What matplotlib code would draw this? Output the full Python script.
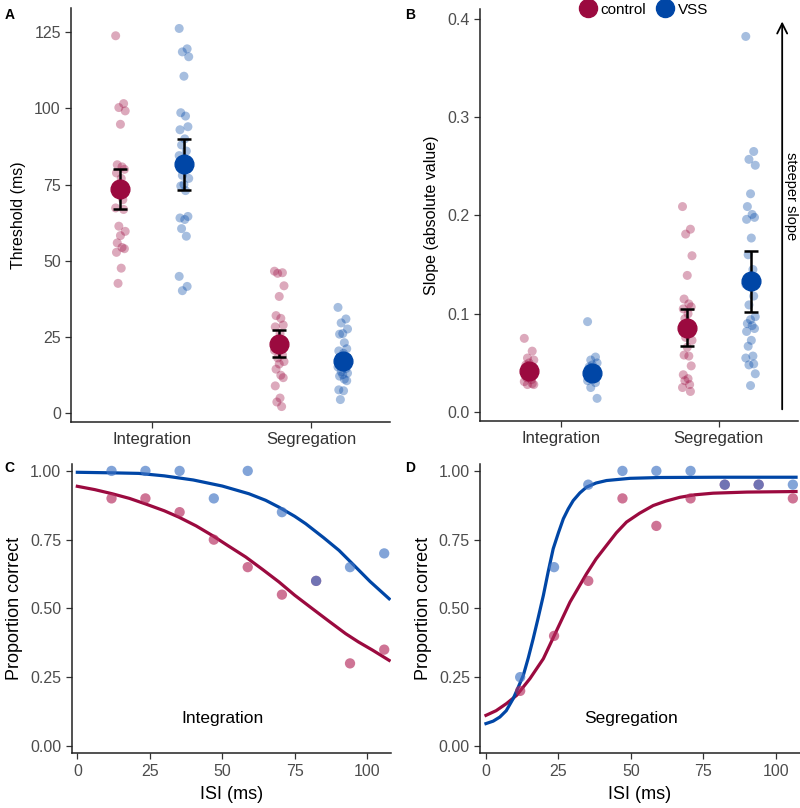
import numpy as np
import matplotlib
matplotlib.use("Agg")
import matplotlib.pyplot as plt
from matplotlib.lines import Line2D

plt.rcParams["font.family"] = ["Liberation Sans", "DejaVu Sans"]

RED = "#9b0a3f"
BLUE = "#0046a6"
TICK_GREY = "#4d4d4d"

# ---- panel A: thresholds (ms) ----
thr_int_control = [123.9, 101.6, 100.3, 99.2, 94.8, 81.5, 80.8, 80.0, 78.8, 77.0, 75.0, 70.0,
                   67.3, 66.8, 61.3, 59.6, 58.2, 55.8, 54.3, 53.9, 52.7, 47.5, 42.5]
thr_int_vss = [126.3, 119.6, 118.6, 117.0, 110.6, 98.6, 97.5, 94.0, 93.0, 90.0, 88.0, 86.0, 84.5,
               81.0, 78.0, 77.0, 75.0, 74.5, 73.0, 64.5, 64.0, 63.5, 60.5, 58.0, 44.8, 41.5, 40.1]
thr_seg_control = [46.5, 46.0, 45.8, 41.7, 38.2, 31.9, 31.0, 28.8, 28.2, 26.0, 24.0, 22.0, 20.5,
                   19.0, 18.0, 16.8, 16.0, 14.3, 12.3, 11.5, 8.8, 4.8, 3.5, 2.0]
thr_seg_vss = [34.6, 30.8, 29.5, 27.5, 26.0, 25.8, 23.0, 21.0, 20.3, 19.5, 18.0, 16.0, 15.0, 14.5,
               13.5, 13.0, 12.5, 12.0, 11.0, 10.5, 7.5, 7.2, 4.3]
thr_mean = {"control": [73.6, 22.6], "VSS": [81.6, 17.0]}
thr_lo = {"control": [66.8, 18.2], "VSS": [73.1, 15.2]}
thr_hi = {"control": [80.2, 27.2], "VSS": [89.9, 18.8]}

# ---- panel B: slopes (absolute value) ----
slp_int_control = [0.075, 0.062, 0.055, 0.053, 0.050, 0.048, 0.045, 0.042, 0.040, 0.037, 0.035,
                   0.033, 0.031, 0.029, 0.028, 0.028]
slp_int_vss = [0.092, 0.056, 0.053, 0.050, 0.048, 0.046, 0.044, 0.042, 0.040, 0.038, 0.036, 0.034,
               0.032, 0.030, 0.025, 0.014]
slp_seg_control = [0.209, 0.186, 0.181, 0.159, 0.139, 0.115, 0.110, 0.107, 0.105, 0.100, 0.095,
                   0.090, 0.085, 0.080, 0.076, 0.073, 0.066, 0.058, 0.057, 0.047, 0.038, 0.034,
                   0.032, 0.028, 0.025, 0.021]
slp_seg_vss = [0.382, 0.265, 0.257, 0.251, 0.222, 0.209, 0.201, 0.198, 0.196, 0.177, 0.160, 0.145,
               0.130, 0.118, 0.109, 0.097, 0.094, 0.090, 0.088, 0.085, 0.082, 0.073, 0.067, 0.057,
               0.055, 0.049, 0.048, 0.039, 0.027]
slp_mean = {"control": [0.0417, 0.0857], "VSS": [0.040, 0.133]}
slp_lo = {"control": [0.038, 0.0674], "VSS": [0.037, 0.102]}
slp_hi = {"control": [0.045, 0.105], "VSS": [0.043, 0.164]}

conditions = ["Integration", "Segregation"]

# ---- panels C/D: example observer ----
isi = [11.8, 23.5, 35.3, 47.1, 58.8, 70.6, 82.4, 94.1, 105.9]
pc_int_control = [0.90, 0.90, 0.85, 0.75, 0.65, 0.55, 0.60, 0.30, 0.35]
pc_int_vss = [1.00, 1.00, 1.00, 0.90, 1.00, 0.85, 0.60, 0.65, 0.70]
pc_seg_control = [0.20, 0.40, 0.60, 0.90, 0.80, 0.90, 0.95, 0.95, 0.90]
pc_seg_vss = [0.25, 0.65, 0.95, 1.00, 1.00, 1.00, 0.95, 0.95, 0.95]

# fitted curves
fit_int_vss_x = [0, 12, 21.2, 30, 40, 50, 59.2, 65, 69.6, 75, 78.8, 85, 90.3, 96.1, 101, 107.6]
fit_int_vss = [0.995, 0.993, 0.991, 0.982, 0.967, 0.945, 0.917, 0.893, 0.868, 0.835, 0.808, 0.757,
               0.711, 0.650, 0.598, 0.535]
fit_int_control_x = [0, 6, 12, 18, 23.5, 30, 35, 41, 46.6, 52, 58.1, 64, 69.6, 75, 81.1, 87, 92.6,
                     97, 101.9, 107.6]
fit_int_control = [0.944, 0.932, 0.917, 0.900, 0.880, 0.855, 0.832, 0.800, 0.765, 0.728, 0.687,
                   0.641, 0.596, 0.548, 0.499, 0.452, 0.408, 0.378, 0.348, 0.311]
fit_seg_vss_x = [0, 2.5, 4.8, 7, 9.4, 11, 12.9, 14.6, 16.3, 18, 19.8, 21.5, 23.2, 25, 26.7, 28.4,
                 30.1, 32.4, 34.7, 38, 41.6, 49.7, 60, 80, 107]
fit_seg_vss = [0.081, 0.090, 0.105, 0.128, 0.172, 0.210, 0.257, 0.320, 0.390, 0.465, 0.547, 0.635,
               0.717, 0.775, 0.826, 0.862, 0.892, 0.920, 0.941, 0.956, 0.965, 0.973, 0.976, 0.977,
               0.977]
fit_seg_control_x = [0, 3.5, 7.1, 10.6, 15.2, 19.8, 24.4, 29, 34.7, 38, 41.6, 45, 48.5, 53, 57.7, 62,
                     66.9, 72, 78.4, 90, 107]
fit_seg_control = [0.111, 0.128, 0.154, 0.184, 0.245, 0.317, 0.420, 0.523, 0.626, 0.680, 0.729,
                   0.775, 0.814, 0.846, 0.874, 0.890, 0.904, 0.913, 0.919, 0.923, 0.925]

jitter = [-0.03, 0.02, -0.01, 0.03, 0.0, -0.02, 0.01, 0.025, -0.025, 0.005, -0.015, 0.015]


def jit(n):
    return np.resize(jitter, n)


def style_axes(ax):
    for side in ("top", "right"):
        ax.spines[side].set_visible(False)
    for side in ("left", "bottom"):
        ax.spines[side].set_linewidth(1.1)
        ax.spines[side].set_color("#222222")
    ax.tick_params(length=4, width=0.9, color="#333333", labelcolor=TICK_GREY, labelsize=11.5)


def strip_panel(ax, groups, means, lo, hi):
    dodge = {"control": -0.2, "VSS": 0.2}
    colors = {"control": RED, "VSS": BLUE}
    for gi, pair in enumerate(groups):
        for name, vals in zip(("control", "VSS"), pair):
            x0 = gi + 1 + dodge[name]
            ax.scatter(x0 + jit(len(vals)), vals, s=42, color=colors[name], alpha=0.35,
                       edgecolors="none", zorder=2)
    for name in ("control", "VSS"):
        xs = np.arange(1, 3) + dodge[name]
        m = np.array(means[name])
        ax.errorbar(xs, m, yerr=[m - np.array(lo[name]), np.array(hi[name]) - m], fmt="none",
                    ecolor="black", elinewidth=1.8, capsize=4.8, capthick=1.8, zorder=3)
        ax.plot(xs, m, "o", ms=13.5, color=colors[name], ls="none", zorder=4)
    ax.set_xticks([1, 2])
    ax.set_xticklabels(conditions)


fig = plt.figure(figsize=(8.0, 8.08), dpi=100)

axA = fig.add_axes([0.089, 0.478, 0.399, 0.512])
strip_panel(axA, [(thr_int_control, thr_int_vss), (thr_seg_control, thr_seg_vss)],
            thr_mean, thr_lo, thr_hi)
axA.set_xlim(0.49, 2.5)
axA.set_ylim(-3, 133)
axA.set_yticks([0, 25, 50, 75, 100, 125])
axA.set_ylabel("Threshold (ms)", fontsize=11.5, labelpad=6)
style_axes(axA)
axA.tick_params(axis="x", labelsize=12, labelcolor="#333333")

axB = fig.add_axes([0.6, 0.479, 0.3975, 0.510])
strip_panel(axB, [(slp_int_control, slp_int_vss), (slp_seg_control, slp_seg_vss)],
            slp_mean, slp_lo, slp_hi)
axB.set_xlim(0.49, 2.5)
axB.set_ylim(-0.009, 0.41)
axB.set_yticks([0.0, 0.1, 0.2, 0.3, 0.4])
axB.set_yticklabels(["0.0", "0.1", "0.2", "0.3", "0.4"])
axB.set_ylabel("Slope (absolute value)", fontsize=11.5, labelpad=6)
style_axes(axB)
axB.tick_params(axis="x", labelsize=12, labelcolor="#333333")
axB.annotate("", xy=(2.40, 0.40), xytext=(2.40, 0.0),
             arrowprops=dict(arrowstyle="->", lw=1.3, color="black", mutation_scale=18))
axB.text(2.455, 0.22, "steeper slope", rotation=-90, ha="center", va="center", fontsize=10.5)


def curve_panel(ax, y_ctrl, y_vss, fits, label):
    (cx, cy), (vx, vy) = fits
    ax.plot(cx, cy, color=RED, lw=2.3, zorder=2, solid_joinstyle="round")
    ax.plot(vx, vy, color=BLUE, lw=2.3, zorder=2, solid_joinstyle="round")
    ax.scatter(isi, y_ctrl, s=55, color="#b52a5c", alpha=0.65, edgecolors="none", zorder=3)
    ax.scatter(isi, y_vss, s=55, color="#3f73c4", alpha=0.65, edgecolors="none", zorder=3)
    ax.set_xlim(-1.95, 108.2)
    ax.set_ylim(-0.027, 1.025)
    ax.set_xticks([0, 25, 50, 75, 100])
    ax.set_yticks([0, 0.25, 0.5, 0.75, 1.0])
    ax.set_yticklabels(["0.00", "0.25", "0.50", "0.75", "1.00"])
    ax.set_xlabel("ISI (ms)", fontsize=13, labelpad=5)
    ax.set_ylabel("Proportion correct", fontsize=13, labelpad=5)
    ax.text(50, 0.1, label, ha="center", va="center", fontsize=12.5)
    style_axes(ax)


axC = fig.add_axes([0.0896, 0.0677, 0.399, 0.358])
curve_panel(axC, pc_int_control, pc_int_vss,
            [(fit_int_control_x, fit_int_control), (fit_int_vss_x, fit_int_vss)], "Integration")

axD = fig.add_axes([0.6004, 0.0677, 0.399, 0.358])
curve_panel(axD, pc_seg_control, pc_seg_vss,
            [(fit_seg_control_x, fit_seg_control), (fit_seg_vss_x, fit_seg_vss)], "Segregation")

for lab, (x, y) in zip("ABCD", [(0.006, 0.981), (0.506, 0.981), (0.006, 0.421), (0.506, 0.421)]):
    fig.text(x, y, lab, fontsize=10, fontweight="bold", ha="left", va="center")

handles = [Line2D([], [], marker="o", ls="none", ms=13, color=RED, label="control"),
           Line2D([], [], marker="o", ls="none", ms=13, color=BLUE, label="VSS")]
fig.legend(handles=handles, loc="center", bbox_to_anchor=(0.805, 0.988), ncol=2, frameon=False,
           fontsize=11, handlelength=1.0, handletextpad=0.3, columnspacing=0.8, borderaxespad=0)

fig.savefig("out.png", dpi=100, facecolor="white")
